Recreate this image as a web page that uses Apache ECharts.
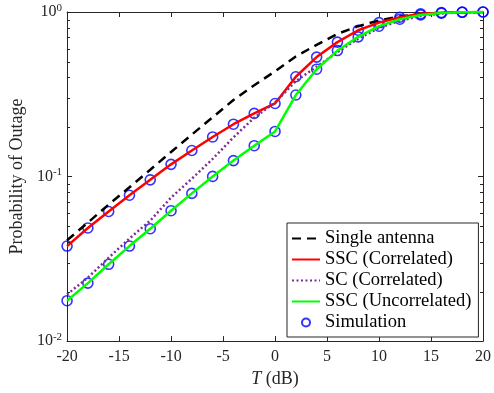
<!DOCTYPE html>
<html>
<head>
<meta charset="utf-8">
<script src="https://cdn.jsdelivr.net/npm/echarts@6/dist/echarts.min.js"></script>
<style>
html,body{margin:0;padding:0;background:#fff;}
#c{width:494px;height:393px;}
</style>
</head>
<body>
<div id="c"></div>
<script>
// ---- data ----
const T = [-20,-18,-16,-14,-12,-10,-8,-6,-4,-2,0,2,4,6,8,10,12,14,16,18,20];
const singleAntenna   = [0.041,0.0525,0.0676,0.086,0.110,0.141,0.180,0.229,0.292,0.359,0.436,0.537,0.632,0.736,0.820,0.888,0.940,0.972,0.990,0.997,1.0];
const sscCorrelated   = [0.0378,0.0487,0.0613,0.0770,0.0955,0.1186,0.144,0.174,0.208,0.242,0.278,0.404,0.532,0.656,0.775,0.862,0.929,0.975,0.991,0.998,1.0];
const scCorrelated    = [0.0192,0.0243,0.0321,0.042,0.054,0.0745,0.097,0.128,0.173,0.228,0.282,0.380,0.465,0.570,0.688,0.800,0.885,0.945,0.980,0.995,1.0];
const sscUncorrelated = [0.0176,0.0225,0.0293,0.0378,0.0482,0.0620,0.079,0.1002,0.125,0.154,0.188,0.313,0.449,0.583,0.706,0.820,0.904,0.960,0.985,0.996,1.0];
const simulationCorrelated   = sscCorrelated;
const simulationUncorrelated = sscUncorrelated;
const xTickValues = [-20,-15,-10,-5,0,5,10,15,20];
const yDecades = [-2,-1,0];
const seriesNames = ['Single antenna','SSC (Correlated)','SC (Correlated)','SSC (Uncorrelated)','Simulation'];

const FONT = '"Liberation Serif", "Times New Roman", serif';
const AXC = '#262626';

const pair = (xs, ys) => xs.map((x, i) => [x, ys[i]]);

const chart = echarts.init(document.getElementById('c'), null, {renderer: 'canvas'});

function supLabel(v) {
  const e = Math.round(Math.log10(v));
  return '{b|10}{s|' + e + '}';
}

const hiddenSym = {color: 'rgba(0,0,0,0)', borderWidth: 0, opacity: 0};

const option = {
  animation: false,
  backgroundColor: '#fff',
  grid: {left: 63, right: 7, top: 12, bottom: 49, containLabel: false},
  xAxis: [{
    type: 'value', min: -20, max: 20, interval: 5,
    name: '{i|T} (dB)', nameLocation: 'middle', nameGap: 27,
    nameTextStyle: {fontFamily: FONT, fontSize: 18, color: AXC,
      rich: {i: {fontFamily: FONT, fontSize: 18, fontStyle: 'italic', color: AXC}}},
    axisLine: {show: true, onZero: false, lineStyle: {color: AXC, width: 1}},
    axisTick: {show: true, inside: true, length: 5, lineStyle: {color: AXC}},
    axisLabel: {fontFamily: FONT, fontSize: 16, color: AXC, margin: 8,
      formatter: v => xTickValues.includes(v) ? String(v) : ''},
    splitLine: {show: false}
  }, {
    type: 'value', min: -20, max: 20, interval: 5, position: 'top',
    axisLine: {show: true, onZero: false, lineStyle: {color: AXC, width: 1}},
    axisTick: {show: true, inside: true, length: 5, lineStyle: {color: AXC}},
    axisLabel: {show: false}, splitLine: {show: false}
  }],
  yAxis: [{
    type: 'log', logBase: 10, min: 0.01, max: 1, position: 'left',
    name: 'Probability of Outage', nameLocation: 'middle', nameGap: 38,
    nameTextStyle: {fontFamily: FONT, fontSize: 18, color: AXC},
    axisLine: {show: true, onZero: false, lineStyle: {color: AXC, width: 1}},
    axisTick: {show: true, inside: true, length: 5, lineStyle: {color: AXC}},
    axisLabel: {margin: 5, formatter: supLabel,
      rich: {
        b: {fontFamily: FONT, fontSize: 16, color: AXC, lineHeight: 19},
        s: {fontFamily: FONT, fontSize: 11, color: AXC, lineHeight: 11, padding: [0,0,8,0], verticalAlign: 'bottom'}
      }},
    splitLine: {show: false}
  }, {
    type: 'log', logBase: 10, min: 0.01, max: 1, position: 'right',
    axisLine: {show: true, onZero: false, lineStyle: {color: AXC, width: 1}},
    axisTick: {show: true, inside: true, length: 5, lineStyle: {color: AXC}},
    axisLabel: {show: false}, splitLine: {show: false}
  }],
  legend: {
    orient: 'vertical', left: 287, top: 223,
    backgroundColor: '#fff', borderColor: AXC, borderWidth: 1, borderRadius: 0,
    padding: [5, 7, 4, 4], itemGap: 0, itemWidth: 28, itemHeight: 8,
    textStyle: {fontFamily: FONT, fontSize: 18.5, color: '#000', lineHeight: 21},
    data: [
      {name: seriesNames[0], itemStyle: hiddenSym},
      {name: seriesNames[1], itemStyle: hiddenSym},
      {name: seriesNames[2], itemStyle: hiddenSym},
      {name: seriesNames[3], itemStyle: hiddenSym},
      {name: seriesNames[4]}
    ]
  },
  series: [
    {name: seriesNames[0], type: 'line', data: pair(T, singleAntenna), symbol: 'none',
      lineStyle: {color: '#000', width: 2.5, type: [9, 6]}, itemStyle: {color: '#000'}},
    {name: seriesNames[1], type: 'line', data: pair(T, sscCorrelated), symbol: 'none',
      lineStyle: {color: '#ff0000', width: 2.5}, itemStyle: {color: '#ff0000'}},
    {name: seriesNames[2], type: 'line', data: pair(T, scCorrelated), symbol: 'none',
      lineStyle: {color: '#7e2f8e', width: 2.5, type: [2, 2.5]}, itemStyle: {color: '#7e2f8e'}},
    {name: seriesNames[3], type: 'line', data: pair(T, sscUncorrelated), symbol: 'none',
      lineStyle: {color: '#00ff00', width: 2.5}, itemStyle: {color: '#00ff00'}},
    {name: seriesNames[4], type: 'scatter', data: pair(T, simulationCorrelated), symbol: 'circle', symbolSize: 10,
      itemStyle: {color: 'rgba(0,0,0,0)', borderColor: '#0000ff', borderWidth: 1.6}},
    {name: seriesNames[4], type: 'scatter', data: pair(T, simulationUncorrelated), symbol: 'circle', symbolSize: 10,
      itemStyle: {color: 'rgba(0,0,0,0)', borderColor: '#0000ff', borderWidth: 1.6}}
  ]
};
chart.setOption(option);

// minor log ticks (2..9 within each decade) on left and right box edges
const graphics = [];
const xl = chart.convertToPixel({xAxisIndex: 0}, -20);
const xr = chart.convertToPixel({xAxisIndex: 0}, 20);
for (let k = 0; k < yDecades.length - 1; k++) {
  for (let m = 2; m <= 9; m++) {
    const v = m * Math.pow(10, yDecades[k]);
    const y = Math.round(chart.convertToPixel({yAxisIndex: 0}, v)) + 0.5;
    graphics.push({type: 'line', shape: {x1: xl, y1: y, x2: xl + 3, y2: y}, style: {stroke: AXC, lineWidth: 1}, z: 10});
    graphics.push({type: 'line', shape: {x1: xr - 3, y1: y, x2: xr, y2: y}, style: {stroke: AXC, lineWidth: 1}, z: 10});
  }
}
chart.setOption({graphic: graphics});
</script>
</body>
</html>
